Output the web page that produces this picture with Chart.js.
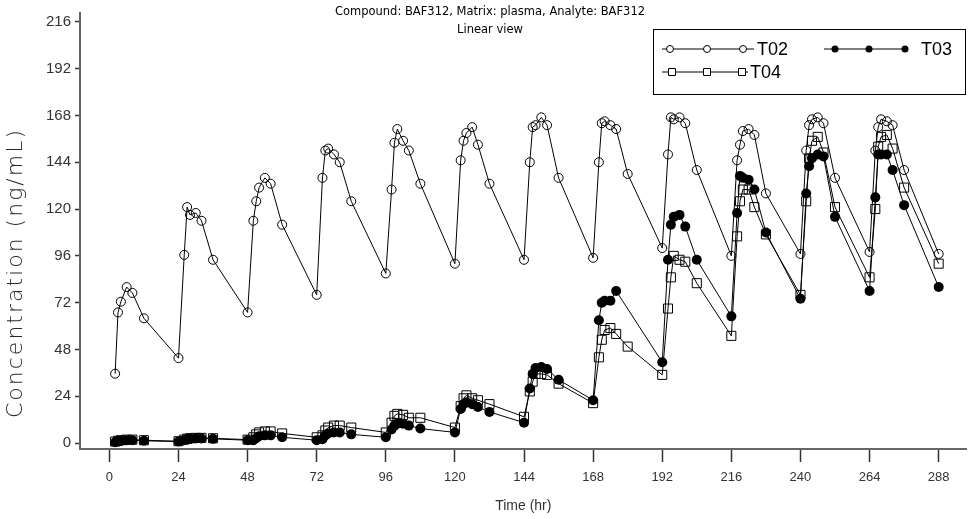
<!DOCTYPE html>
<html>
<head>
<meta charset="utf-8">
<script src="https://cdn.jsdelivr.net/npm/chart.js@4.4.0/dist/chart.umd.min.js"></script>
<style>
    body { margin: 0; background: #fff; }
</style>
</head>
<body>
<canvas id="pk-chart" width="974" height="519"></canvas>
<script>
// Sampling times (hr) - same schedule for every group
const timesHr = [
    2, 3, 4, 6, 8, 12, 24,
    26, 27, 28, 30, 32, 36, 48,
    50, 51, 52, 54, 56, 60, 72,
    74, 75, 76, 78, 80, 84, 96,
    98, 99, 100, 102, 104, 108, 120,
    122, 123, 124, 126, 128, 132, 144,
    146, 147, 148, 150, 152, 156, 168,
    170, 171, 172, 174, 176, 180, 192,
    194, 195, 196, 198, 200, 204, 216,
    218, 219, 220, 222, 224, 228, 240,
    242, 243, 244, 246, 248, 252, 264,
    266, 267, 268, 270, 272, 276, 288
];

// Concentrations (ng/mL)
const t02Conc = [
    35.6, 67, 72.5, 80, 77, 64, 43.6,
    96.5, 121, 117, 118, 114, 94, 67,
    114, 124, 131, 136, 133, 112, 76,
    136, 150, 151, 148, 144, 124, 87,
    130, 154, 161, 155, 150, 133, 92,
    145, 155, 159, 162, 153, 133, 94,
    144, 162, 163, 167, 163, 136, 95,
    144, 164, 165, 163, 161, 138, 100,
    148, 167, 166, 167, 164, 140, 96,
    145, 153, 160, 161, 158, 128, 97,
    150, 163, 166, 167, 164, 136, 98,
    150, 162, 166, 165, 163, 140, 97
];

const t03Conc = [
    0.5, 1, 1.2, 1.5, 1.5, 1.2, 0.8,
    1.5, 2, 2.2, 2.4, 2.4, 2.2, 1.5,
    1.5, 2.5, 3.5, 4, 4, 3, 1.5,
    2, 4, 5, 5.5, 5.5, 4.5, 3,
    7, 9, 10, 10, 9, 7.5, 5.5,
    17.5, 20, 21, 20, 18.5, 16, 10.5,
    28, 35.5, 38.5, 39, 38, 32.5, 22,
    63, 72, 73, 73, 78, null, 41.5,
    94, 112, 116, 117, 111, 94, 65,
    118, 137, 136, 135, 130, 108, 74,
    128, 142, 146, 148, 147, 116, 78,
    126, 148, 148, 148, 140, 122, 80
];

const t04Conc = [
    0.8, 1.2, 1.5, 1.8, 1.8, 1.5, 1,
    1.8, 2.3, 2.5, 2.7, 2.7, 2.5, 1.8,
    3, 4.5, 5.5, 6, 6, 5, 3,
    4, 6.5, 8, 9, 9, 8, 5.5,
    10.5, 14, 15, 14.5, 13, 13, 8,
    19, 23, 24.5, 23, 22, 20, 13.5,
    26.5, 31.5, 35.5, 35.5, 35, 30.5, 20.5,
    44, 53, 58, 59, 56, 49.5, 35,
    69, 85, 96, 94, 93, 82, 55,
    106, 124, 130, 130, 121, 107, 76,
    124, 146, 155, 157, 149, 121, 85,
    120, 152, 157, 158, 151, 131, 92
];

const xTickValues = [0, 24, 48, 72, 96, 120, 144, 168, 192, 216, 240, 264, 288];
const yTickValues = [0, 24, 48, 72, 96, 120, 144, 168, 192, 216];

const groupNames = ['T02', 'T03', 'T04'];
const titleLines = ['Compound: BAF312, Matrix: plasma, Analyte: BAF312', 'Linear view'];
const yAxisTitle = 'Concentration (ng/mL)';

function toPoints(values) {
    return timesHr.map((t, i) => ({ x: t, y: values[i] }));
}

// Title text, y axis title and the boxed legend (three markers per sample line)
const decorPlugin = {
    id: 'decor',
    afterDraw(chart) {
        const ctx = chart.ctx;
        ctx.save();

        ctx.fillStyle = '#000';
        ctx.font = '11.5px "DejaVu Sans"';
        ctx.textAlign = 'center';
        ctx.textBaseline = 'middle';
        ctx.fillText(titleLines[0], 490, 12);
        ctx.fillText(titleLines[1], 490, 30);

        // y axis title, sits a bit lower than the plot centre like the original
        ctx.save();
        ctx.translate(16, 273);
        ctx.rotate(-Math.PI / 2);
        ctx.fillStyle = '#2a2a2a';
        ctx.font = '200 22px "DejaVu Sans"';
        ctx.letterSpacing = '2px';
        ctx.fillText(yAxisTitle, 0, 0);
        ctx.restore();

        // legend box
        ctx.strokeStyle = '#000';
        ctx.lineWidth = 1;
        ctx.fillStyle = '#fff';
        ctx.fillRect(653.5, 29.5, 312, 65);
        ctx.strokeRect(653.5, 29.5, 312, 65);

        function sample(x1, x2, y, marks, style) {
            ctx.beginPath();
            ctx.moveTo(x1, y);
            ctx.lineTo(x2, y);
            ctx.stroke();
            marks.forEach(mx => {
                ctx.beginPath();
                if (style === 'rect') {
                    ctx.rect(mx - 3.5, y - 3.5, 7, 7);
                    ctx.fillStyle = '#fff';
                    ctx.fill();
                    ctx.stroke();
                } else {
                    ctx.arc(mx, y, 3.5, 0, Math.PI * 2);
                    if (style === 'filled') {
                        ctx.fillStyle = '#000';
                        ctx.fill();
                    } else {
                        ctx.fillStyle = '#fff';
                        ctx.fill();
                        ctx.stroke();
                    }
                }
            });
        }

        sample(662, 754, 49, [670, 707, 743], 'open');
        sample(824, 907, 49, [835, 869, 905], 'filled');
        sample(662, 748, 72, [672, 707, 742], 'rect');

        ctx.fillStyle = '#000';
        ctx.font = '18px "Liberation Sans"';
        ctx.textAlign = 'left';
        ctx.fillText(groupNames[0], 757, 50);
        ctx.fillText(groupNames[1], 921, 50);
        ctx.fillText(groupNames[2], 750, 73);

        ctx.restore();
    }
};

const ctx = document.getElementById('pk-chart').getContext('2d');

new Chart(ctx, {
    type: 'line',
    data: {
        datasets: [
            {
                label: groupNames[0],
                data: toPoints(t02Conc),
                borderColor: '#000',
                borderWidth: 1,
                pointStyle: 'circle',
                pointRadius: 4.5,
                pointBorderWidth: 1,
                pointBorderColor: '#000',
                pointBackgroundColor: 'rgba(0,0,0,0)',
                tension: 0
            },
            {
                label: groupNames[1],
                data: toPoints(t03Conc),
                borderColor: '#000',
                borderWidth: 1,
                spanGaps: true,
                pointStyle: 'circle',
                pointRadius: 5,
                pointBorderWidth: 0,
                pointBackgroundColor: '#000',
                tension: 0
            },
            {
                label: groupNames[2],
                data: toPoints(t04Conc),
                borderColor: '#000',
                borderWidth: 1,
                pointStyle: 'rect',
                pointRadius: 6.4,
                pointBorderWidth: 1,
                pointBorderColor: '#000',
                pointBackgroundColor: 'rgba(0,0,0,0)',
                tension: 0
            }
        ]
    },
    options: {
        responsive: false,
        animation: false,
        layout: { padding: { top: 3, right: 0, left: 0, bottom: 0 } },
        plugins: {
            legend: { display: false },
            tooltip: { enabled: false }
        },
        scales: {
            x: {
                type: 'linear',
                min: -10.2,
                max: 297.7,
                afterBuildTicks: scale => { scale.ticks = xTickValues.map(v => ({ value: v })); },
                afterFit: scale => { scale.height = 70; },
                border: { display: true, color: '#666', width: 2 },
                grid: { drawOnChartArea: false, drawTicks: true, tickLength: 13, tickColor: '#333', tickWidth: 1.5 },
                ticks: { color: '#333', font: { family: 'Liberation Sans', size: 13 }, padding: 8, maxRotation: 0 },
                title: {
                    display: true,
                    text: 'Time (hr)',
                    color: '#333',
                    font: { family: 'Liberation Sans', size: 14 },
                    padding: { top: 0, bottom: 4 }
                }
            },
            y: {
                min: -3,
                max: 220.5,
                afterBuildTicks: scale => { scale.ticks = yTickValues.map(v => ({ value: v })); },
                afterFit: scale => { scale.width = 80; },
                border: { display: true, color: '#666', width: 2 },
                grid: { drawOnChartArea: false, drawTicks: true, tickLength: 5, tickColor: '#333', tickWidth: 1.5 },
                ticks: { color: '#333', font: { family: 'Liberation Sans', size: 15 }, padding: 4 }
            }
        }
    },
    plugins: [decorPlugin]
});
</script>
</body>
</html>
